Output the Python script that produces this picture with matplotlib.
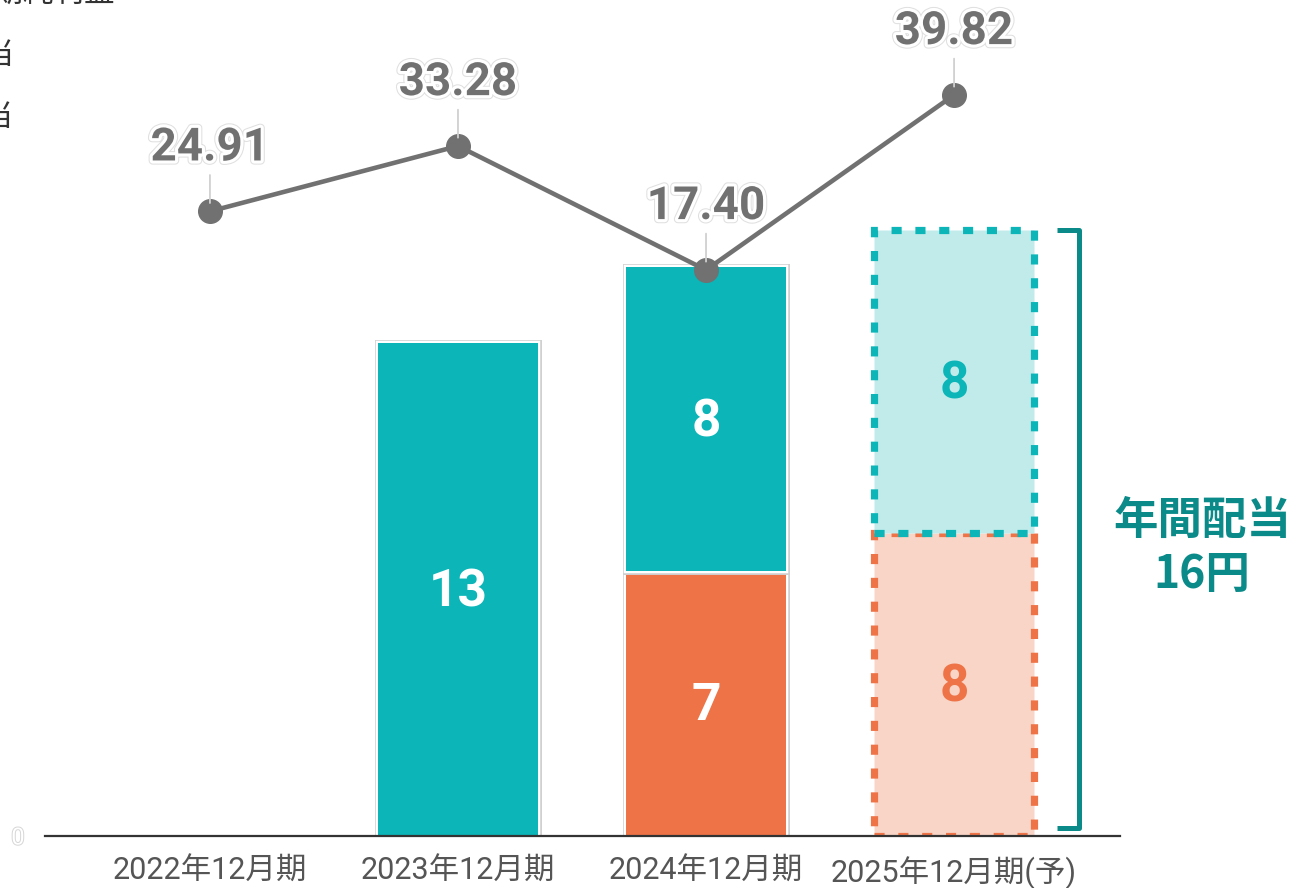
import matplotlib
matplotlib.use("Agg")
import matplotlib.pyplot as plt
import matplotlib.patheffects as pe
import numpy as np

# ---- data ----
periods = ["2022年12月期", "2023年12月期", "2024年12月期", "2025年12月期(予)"]
eps = [24.91, 33.28, 17.40, 39.82]              # 1株当たり当期純利益
interim_div = [0, 0, 7, 8]                       # 中間配当
year_end_div = [0, 13, 8, 8]                     # 期末配当
forecast = [False, False, False, True]
annual_label = "年間配当\n16円"

TEAL = "#0BB5B8"
ORANGE = "#EE7447"
TEAL_LIGHT = "#C1EBEA"
ORANGE_LIGHT = "#F8D5C6"
DARK_TEAL = "#0A8A88"
GREY = "#717171"

plt.rcParams["font.family"] = ["Roboto", "Noto Sans CJK JP", "DejaVu Sans"]

W, H = 1294, 888
fig = plt.figure(figsize=(W / 100, H / 100), dpi=100)
ax = fig.add_axes([45 / W, (H - 836) / H, (1120 - 45) / W, 836 / H])
ax2 = ax.twinx()

x = np.arange(len(periods))
bw = 0.645

bar_fx = [pe.Stroke(linewidth=5, foreground="#cfcfcf"),
          pe.Stroke(linewidth=3.2, foreground="white"),
          pe.Normal()]
dots = (0, (1.4, 1.9))

for i in x:
    lo, hi = interim_div[i], year_end_div[i]
    if forecast[i]:
        ax.bar(i, lo, bw, color=ORANGE_LIGHT, edgecolor=ORANGE,
               linewidth=5.2, linestyle=dots, zorder=2)
        ax.bar(i, hi, bw, bottom=lo, color=TEAL_LIGHT, edgecolor=TEAL,
               linewidth=5.2, linestyle=dots, zorder=3)
        if lo:
            ax.text(i, lo / 2 - 0.08, f"{lo}", ha="center", va="center", color=ORANGE,
                    fontsize=37, fontweight="bold", zorder=6)
        if hi:
            ax.text(i, lo + hi / 2 - 0.08, f"{hi}", ha="center", va="center", color=TEAL,
                    fontsize=37, fontweight="bold", zorder=6)
    else:
        if lo:
            b = ax.bar(i, lo, bw, color=ORANGE, linewidth=0, zorder=2)
            for p in b:
                p.set_path_effects(bar_fx)
            ax.text(i, lo / 2 - 0.08, f"{lo}", ha="center", va="center", color="white",
                    fontsize=37, fontweight="bold", zorder=6)
        if hi:
            b = ax.bar(i, hi, bw, bottom=lo, color=TEAL, linewidth=0, zorder=2)
            for p in b:
                p.set_path_effects(bar_fx)
            ax.text(i, lo + hi / 2 - 0.08, f"{hi}", ha="center", va="center", color="white",
                    fontsize=37, fontweight="bold", zorder=6)

# bracket for the annual forecast dividend
total_fc = interim_div[3] + year_end_div[3]
bx, tx = 3.504, 3.415
ax.plot([tx, bx, bx, tx], [total_fc, total_fc, 0.22, 0.22], color=DARK_TEAL,
        lw=3.6, solid_joinstyle="round", solid_capstyle="butt", clip_on=False, zorder=4)
ax.text(4.0, 7.6, annual_label, ha="center", va="center",
        color=DARK_TEAL, fontsize=32, fontweight="bold", linespacing=1.2,
        family=["Noto Sans CJK JP"], clip_on=False)

ax.set_xlim(-0.665, 3.669)
ax.set_ylim(0, 836 / 37.9)

# EPS line
ax2.plot(x, eps, color=GREY, lw=3.3, marker="o", markersize=17, zorder=5)
ax2.set_ylim(-55.12, 51.99)
for i, v in zip(x, eps):
    ax2.annotate(f"{v:.2f}", xy=(i, v), xytext=(0, 46), textcoords="offset points",
                 ha="center", va="center", fontsize=33, fontweight="bold", color=GREY,
                 path_effects=[pe.Stroke(linewidth=6, foreground="#e0e0e0"),
                               pe.Stroke(linewidth=4.5, foreground="white"),
                               pe.Normal()],
                 arrowprops=dict(arrowstyle="-", color="#d0d0d0", lw=1.3,
                                 shrinkA=2, shrinkB=6),
                 zorder=7)

# axes styling
for a in (ax, ax2):
    for s in a.spines.values():
        s.set_visible(False)
    a.set_yticks([])
    a.patch.set_visible(False)
ax.spines["bottom"].set_visible(True)
ax.spines["bottom"].set_color("#333333")
ax.spines["bottom"].set_linewidth(1.6)
ax.set_xticks(x)
ax.set_xticklabels(periods, fontsize=22, color="#555555")
ax.tick_params(axis="x", length=0, pad=15)
ax2.tick_params(axis="both", length=0)

# zero label at the baseline
fig.text(18 / W, (H - 838) / H, "0", ha="center", va="center", fontsize=17,
         color="white",
         path_effects=[pe.Stroke(linewidth=1.4, foreground="#d6d6d6"), pe.Normal()])

# legend entries at the upper left
legend_fx = dict(ha="right", va="center", fontsize=22, color="#333333",
                 family=["Noto Sans CJK JP"])
fig.text(115 / W, (H + 7) / H, "1株当たり当期純利益", **legend_fx)
fig.text(14 / W, (H - 55) / H, "中間配当", **legend_fx)
fig.text(14 / W, (H - 117) / H, "期末配当", **legend_fx)

fig.savefig("out.png", dpi=100)
